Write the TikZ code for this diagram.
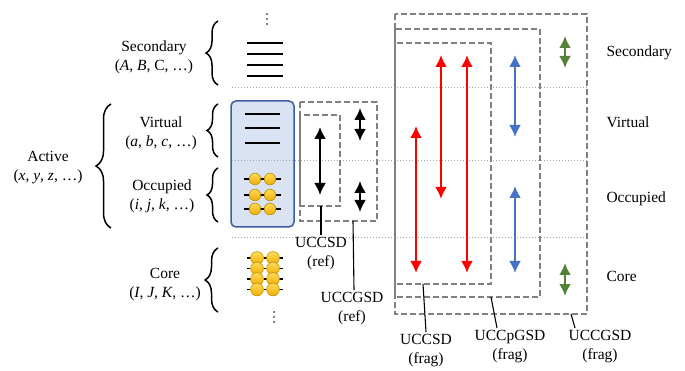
\documentclass[tikz,border=0pt]{standalone}
\usepackage{fontspec}
\setmainfont{Liberation Serif}
\usetikzlibrary{positioning,arrows.meta,decorations.pathreplacing}

\definecolor{boxgray}{HTML}{808080}
\definecolor{dotgray}{HTML}{A6A6A6}
\definecolor{actfill}{HTML}{DAE3F3}
\definecolor{actline}{HTML}{3A5E9E}
\definecolor{orbtop}{HTML}{FFDB5C}
\definecolor{orbbot}{HTML}{EFAE00}
\definecolor{orbline}{HTML}{BF9000}
\definecolor{excred}{HTML}{FF0000}
\definecolor{excblue}{HTML}{4472C4}
\definecolor{excgreen}{HTML}{548235}

\begin{document}
\begin{tikzpicture}[
  x=1pt, y=-1pt,
  font=\fontsize{15.5}{19}\selectfont,
  lvl/.style={line width=1.5pt},
  orb/.style={draw=orbline, line width=0.6pt, top color=orbtop, bottom color=orbbot},
  dbox/.style={draw=boxgray, line width=1.8pt, dash pattern=on 6pt off 3pt},
  sep/.style={draw=dotgray, line width=0.8pt, dash pattern=on 1pt off 2pt},
  brc/.style={decorate, decoration={brace, amplitude=#1}, line width=1.5pt},
  exc/.style={{Latex[length=12pt,width=12pt]}-{Latex[length=12pt,width=12pt]}, line width=2.2pt},
  lead/.style={line width=1.1pt},
  tag/.style={align=center, inner sep=2pt},
  side/.style={anchor=base west}
]
\useasboundingbox (0,0) rectangle (685,371);

% orbital space labels and braces
\node[align=center] (sec) at (154,57.5) {Secondary\\(\textit{A}, \textit{B}, C, …)};
\node[align=center] (vir) at (161,133.5) {Virtual\\(\textit{a}, \textit{b}, \textit{c}, …)};
\node[align=center] (occ) at (162,196) {Occupied\\(\textit{i}, \textit{j}, \textit{k}, …)};
\node[align=center] (act) at (48,167.5) {Active\\(\textit{x}, \textit{y}, \textit{z}, …)};
\node[align=center] (cor) at (165,285) {Core\\(\textit{I}, \textit{J}, \textit{K}, …)};

\draw[brc=12pt] (218,85) -- (218,21);
\draw[brc=11pt] (218,157) -- (218,104);
\draw[brc=11pt] (218,222) -- (218,168);
\draw[brc=15pt] (111,228) -- (111,104);
\draw[brc=13pt] (218,312) -- (218,248);

% active space box
\draw[fill=actfill, draw=actline, line width=1.5pt, rounded corners=5pt] (231,101) rectangle (294,227);

% levels
\foreach \y in {43,54,65,76}
  \draw[lvl] (247,\y) -- (283,\y);
\foreach \y in {114,128,143}
  \draw[lvl] (245,\y) -- (280,\y);
\foreach \y in {179,195,209} {
  \draw[lvl] (244,\y) -- (281,\y);
  \draw[orb] (255,\y) circle (5.8);
  \draw[orb] (270,\y) circle (5.8);
}
\foreach \y in {258,268.5,279,289.5} {
  \draw[lvl] (247,\y) -- (283,\y);
  \draw[orb] (257,\y) circle (6.4);
  \draw[orb] (273,\y) circle (6.4);
}
% more levels above and below
\foreach \k in {0,1,2} {
  \fill (267,14+5*\k) circle (0.9);
  \fill (274,312+5*\k) circle (0.9);
}

% separators between spaces
\foreach \y in {87,160,237}
  \draw[sep] (232,\y) -- (587,\y);

% reference ansatz boxes
\draw[dbox] (300,115) rectangle (340,206);
\draw[dbox] (300,102) rectangle (377,221);
\draw[exc] (320,127) -- (320,195);
\draw[exc] (360,108) -- (360,141);
\draw[exc] (360,181) -- (360,212);

% fragment ansatz boxes
\draw[dbox] (395,43) rectangle (491,284);
\draw[dbox] (395,29) rectangle (540,297);
\draw[dbox] (395,14) rectangle (587,314);
\foreach \x/\ya/\yb in {416/126/273, 441/55/199, 467/55/273}
  \draw[exc, excred, line width=2.5pt] (\x,\ya) -- (\x,\yb);
\foreach \ya/\yb in {55/137, 186/273}
  \draw[exc, excblue] (515,\ya) -- (515,\yb);
\foreach \ya/\yb in {36/68, 263/296}
  \draw[exc, excgreen, line width=2.5pt] (565,\ya) -- (565,\yb);

% right-hand labels
\node[side] (rsec) at (603,57) {Secondary};
\node[side] (rvir) at (603,128) {Virtual};
\node[side] (rocc) at (603,203) {Occupied};
\node[side] (rcor) at (603,281) {Core};

% ansatz names
\coordinate (rsdfoot) at (321,206);
\coordinate (rgsfoot) at (353,221);
\coordinate (fsdfoot) at (423,284);
\coordinate (fpgfoot) at (491,297);
\coordinate (fgsfoot) at (571,314);
\node[tag, below=29pt of rsdfoot] (rsd) {UCCSD\\(ref)};
\node[tag, below=69pt of rgsfoot, xshift=-1pt] (rgs) {UCCGSD\\(ref)};
\node[tag, below=48pt of fsdfoot, xshift=3pt] (fsd) {UCCSD\\(frag)};
\node[tag, below=31pt of fpgfoot, xshift=19pt] (fpg) {UCCpGSD\\(frag)};
\node[tag, below=14pt of fgsfoot, xshift=29pt] (fgs) {UCCGSD\\(frag)};
\draw[lead] (rsdfoot) -- (rsd.north);
\draw[lead] (rgsfoot) -- ([xshift=2pt]rgs.north);
\draw[lead] (fsdfoot) -- (fsd.north);
\draw[lead] (fpgfoot) -- ([xshift=-13pt]fpg.north);
\draw[lead] (fgsfoot) -- ([xshift=-25pt]fgs.north);
\end{tikzpicture}
\end{document}
